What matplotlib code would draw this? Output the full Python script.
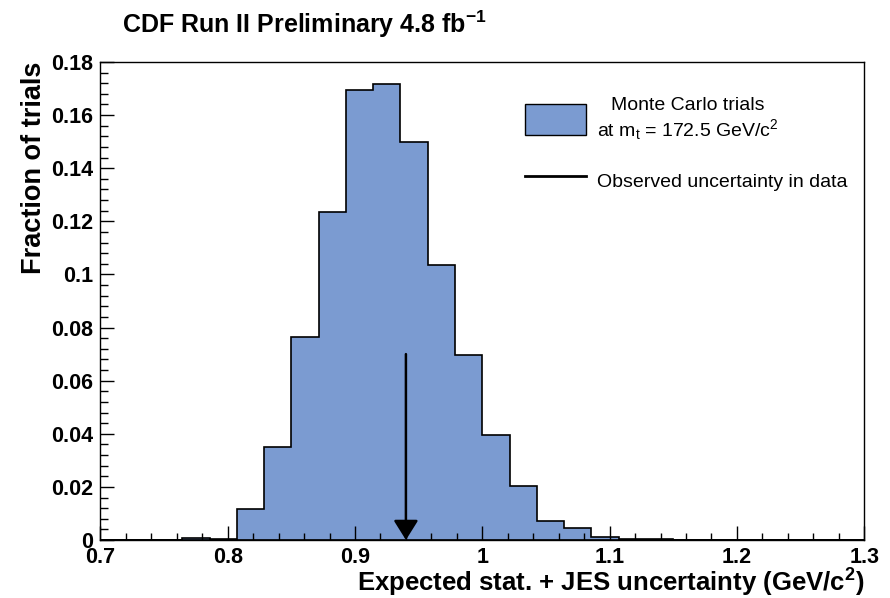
import numpy as np
import matplotlib
matplotlib.use("Agg")
import matplotlib.pyplot as plt
from matplotlib.patches import Patch
from matplotlib.lines import Line2D
from matplotlib.ticker import MultipleLocator

plt.rcParams['font.family'] = ['Liberation Sans', 'DejaVu Sans']
plt.rcParams['mathtext.fontset'] = 'custom'
plt.rcParams['mathtext.rm'] = 'Liberation Sans'
plt.rcParams['mathtext.bf'] = 'Liberation Sans:bold'
plt.rcParams['mathtext.it'] = 'Liberation Sans:italic'

# histogram: 28 bins between 0.7 and 1.3
x_lo, x_hi, n_bins = 0.7, 1.3, 28
fractions = [0, 0, 0, 0.0006, 0.0002, 0.0118, 0.035, 0.0765, 0.1237, 0.1694,
             0.1716, 0.1498, 0.1037, 0.0698, 0.0396, 0.0205, 0.0073, 0.0045,
             0.0011, 0.0005, 0.0004, 0, 0, 0, 0, 0, 0, 0]
observed = 0.940
arrow_top = 0.07

edges = np.linspace(x_lo, x_hi, n_bins + 1)
centers = 0.5 * (edges[:-1] + edges[1:])

fig = plt.figure(figsize=(8.9, 5.98), dpi=100)
ax = fig.add_axes([0.1128, 0.097, 0.8582, 0.7993])

fill = '#7b9bd1'
ax.hist(centers, bins=edges, weights=fractions, histtype='stepfilled',
        facecolor=fill, edgecolor='black', linewidth=1.2)

ax.annotate('', xy=(observed, 0), xytext=(observed, arrow_top),
            arrowprops=dict(arrowstyle='-|>,head_length=1.2,head_width=0.75',
                            mutation_scale=10, color='black', lw=1.8,
                            shrinkA=0, shrinkB=0))

ax.set_xlim(x_lo, x_hi)
ax.set_ylim(0, 0.18)
ax.xaxis.set_major_locator(MultipleLocator(0.1))
ax.xaxis.set_minor_locator(MultipleLocator(0.02))
ax.yaxis.set_major_locator(MultipleLocator(0.02))
ax.yaxis.set_minor_locator(MultipleLocator(0.004))
ax.xaxis.set_major_formatter(plt.FuncFormatter(lambda v, p: f'{v:g}'))
ax.yaxis.set_major_formatter(plt.FuncFormatter(lambda v, p: f'{v:g}'))

ax.tick_params(which='both', direction='in', top=False, right=False, width=1)
ax.tick_params(axis='x', which='major', length=10, pad=5)
ax.tick_params(axis='x', which='minor', length=5)
ax.tick_params(axis='y', which='major', length=10, pad=5)
ax.tick_params(axis='y', which='minor', length=6)
for lab in ax.get_xticklabels() + ax.get_yticklabels():
    lab.set_fontsize(15.5)
    lab.set_fontweight('bold')
for sp in ax.spines.values():
    sp.set_linewidth(1)

ax.set_ylabel('Fraction of trials', fontsize=19.5, fontweight='bold',
              loc='top', labelpad=3)
ax.set_xlabel(r'Expected stat. + JES uncertainty (GeV/c$^{\mathbf{2}}$)',
              fontsize=18.5, fontweight='bold', loc='right', labelpad=-1)
fig.text(0.137, 0.945, r'CDF Run II Preliminary 4.8 fb$^{\mathbf{-1}}$',
         fontsize=18, fontweight='bold', ha='left', va='baseline')

handles = [Patch(facecolor=fill, edgecolor='black', linewidth=1),
           Line2D([], [], color='black', lw=2)]
labels = ['Monte Carlo trials\nat m$_{\\rm t}$ = 172.5 GeV/c$^{2}$',
          'Observed uncertainty in data']
leg = ax.legend(handles, labels, loc='upper left', bbox_to_anchor=(0.543, 0.948),
                frameon=False, fontsize=14, handlelength=3.15, handleheight=2.06,
                handletextpad=0.55, labelspacing=1.2, borderpad=0)
leg.get_texts()[0].set_multialignment('center')

fig.savefig('out.png', dpi=100)
